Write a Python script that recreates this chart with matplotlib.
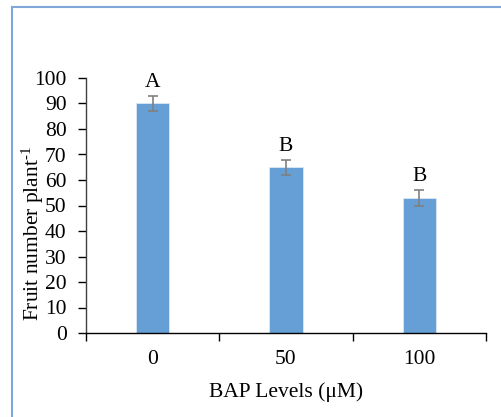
import matplotlib
matplotlib.use("Agg")
import matplotlib.pyplot as plt
from matplotlib.lines import Line2D

levels = ["0", "50", "100"]
fruit_number = [90, 65, 53]
std_err = [3, 3, 3]
letters = ["A", "B", "B"]

plt.rcParams["font.family"] = ["Liberation Serif", "DejaVu Serif"]
plt.rcParams["mathtext.fontset"] = "custom"
plt.rcParams["mathtext.rm"] = "Liberation Serif"
plt.rcParams["mathtext.it"] = "Liberation Serif:italic"

FS = 15.5

fig = plt.figure(figsize=(5.01, 4.17), dpi=100)
ax = fig.add_axes([86 / 501, 1 - 333 / 417, 400 / 501, 255 / 417])

x = list(range(len(levels)))
ax.bar(x, fruit_number, width=0.25, color="#659FD6", edgecolor="#DCE8F5",
       linewidth=0.6, zorder=2)
ax.errorbar(x, fruit_number, yerr=std_err, fmt="none", ecolor="#808080",
            elinewidth=1.2, capsize=3.5, capthick=1.2, zorder=3)
for xi, v, e, lab in zip(x, fruit_number, std_err, letters):
    ax.text(xi, v + e + 1.5, lab, ha="center", va="bottom", fontsize=FS)

ax.set_xlim(-0.5, len(levels) - 0.5)
ax.set_ylim(0, 100)
ax.set_yticks(range(0, 101, 10))
ax.set_xticks(x)
ax.set_xticklabels(levels)
ax.set_xticks([-0.5, 0.5, 1.5, 2.5], minor=True)
ax.tick_params(axis="x", which="major", length=0, pad=12, labelsize=FS)
ax.tick_params(axis="x", which="minor", length=6, width=1, color="black")
ax.tick_params(axis="y", length=6, width=1, labelsize=FS, pad=8)

for s in ["top", "right"]:
    ax.spines[s].set_visible(False)
ax.spines["left"].set_color("#404040")
ax.spines["bottom"].set_color("black")
ax.spines["left"].set_linewidth(1)
ax.spines["bottom"].set_linewidth(1)

ax.set_xlabel("BAP Levels (μM)", fontsize=FS, labelpad=10)
ax.set_ylabel("Fruit number plant$^{\\text{-1}}$", fontsize=FS)
ax.yaxis.set_label_coords(-0.1, 0.392)

# outer frame (left and top edges visible)
fig.add_artist(Line2D([12 / 501, 12 / 501], [0, 1 - 7 / 417],
                      transform=fig.transFigure, color="#7FA7D9", linewidth=1.5))
fig.add_artist(Line2D([12 / 501, 1], [1 - 7 / 417, 1 - 7 / 417],
                      transform=fig.transFigure, color="#7FA7D9", linewidth=1.5))

fig.savefig("out.png", dpi=100)
